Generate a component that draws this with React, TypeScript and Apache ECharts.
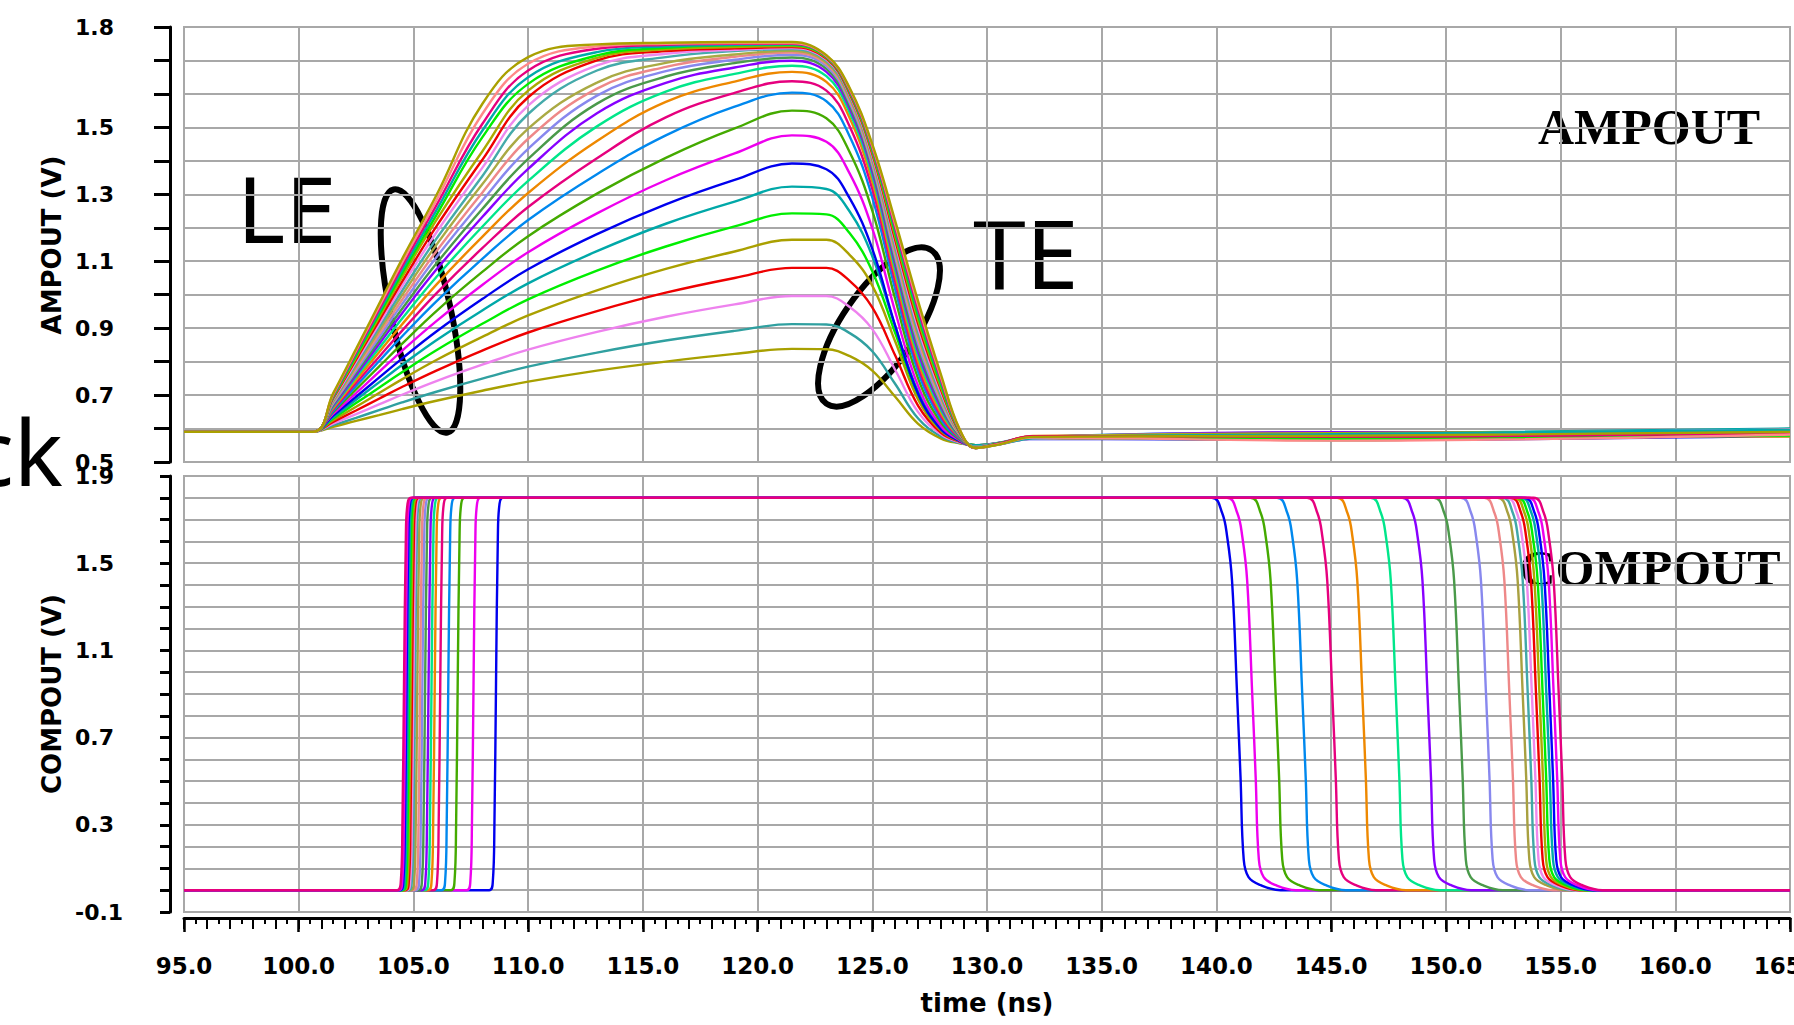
import React, { useEffect, useRef } from 'react';
import * as echarts from 'echarts';

// ---------- AMPOUT (top plot) ----------
const AMP_TIMES = [95, 100.6, 101.5, 102.5, 103.5, 104.5, 106, 108, 110, 113, 116, 119, 121.5, 123, 124, 125, 126, 127, 128, 128.8, 129.5, 130.5, 132, 145, 165];

const AMPOUT_CURVES: number[][] = [
  [0.59, 0.59, 0.605, 0.623, 0.64, 0.658, 0.683, 0.713, 0.74, 0.773, 0.8, 0.823, 0.838, 0.837, 0.817, 0.773, 0.695, 0.614, 0.57, 0.556, 0.55, 0.556, 0.572, 0.583, 0.59],
  [0.59, 0.59, 0.61, 0.632, 0.655, 0.678, 0.71, 0.749, 0.785, 0.827, 0.863, 0.892, 0.912, 0.911, 0.886, 0.831, 0.733, 0.63, 0.576, 0.557, 0.55, 0.555, 0.574, 0.578, 0.596],
  [0.59, 0.59, 0.615, 0.643, 0.672, 0.701, 0.742, 0.791, 0.836, 0.889, 0.934, 0.971, 0.996, 0.996, 0.964, 0.897, 0.775, 0.649, 0.582, 0.559, 0.55, 0.557, 0.571, 0.586, 0.585],
  [0.59, 0.59, 0.62, 0.654, 0.689, 0.724, 0.773, 0.833, 0.887, 0.951, 1.006, 1.05, 1.08, 1.08, 1.042, 0.962, 0.818, 0.668, 0.587, 0.561, 0.55, 0.554, 0.576, 0.575, 0.598],
  [0.59, 0.59, 0.625, 0.665, 0.706, 0.747, 0.805, 0.874, 0.938, 1.013, 1.077, 1.129, 1.164, 1.164, 1.12, 1.027, 0.86, 0.686, 0.593, 0.562, 0.55, 0.556, 0.57, 0.588, 0.58],
  [0.59, 0.59, 0.63, 0.676, 0.722, 0.768, 0.834, 0.913, 0.986, 1.072, 1.144, 1.204, 1.243, 1.24, 1.185, 1.07, 0.885, 0.7, 0.597, 0.564, 0.55, 0.553, 0.575, 0.572, 0.593],
  [0.59, 0.59, 0.634, 0.686, 0.738, 0.79, 0.864, 0.953, 1.034, 1.13, 1.212, 1.278, 1.323, 1.316, 1.25, 1.115, 0.905, 0.71, 0.6, 0.565, 0.55, 0.557, 0.573, 0.584, 0.6],
  [0.59, 0.59, 0.639, 0.695, 0.752, 0.809, 0.89, 0.987, 1.076, 1.181, 1.27, 1.343, 1.392, 1.375, 1.29, 1.137, 0.907, 0.703, 0.597, 0.563, 0.546, 0.555, 0.569, 0.566, 0.578],
  [0.59, 0.59, 0.644, 0.706, 0.769, 0.832, 0.921, 1.029, 1.127, 1.243, 1.342, 1.422, 1.476, 1.457, 1.364, 1.198, 0.949, 0.727, 0.607, 0.565, 0.546, 0.554, 0.577, 0.58, 0.588],
  [0.59, 0.59, 0.649, 0.717, 0.785, 0.853, 0.951, 1.068, 1.175, 1.302, 1.409, 1.497, 1.55, 1.527, 1.428, 1.251, 0.987, 0.749, 0.617, 0.568, 0.546, 0.556, 0.572, 0.57, 0.595],
  [0.59, 0.59, 0.653, 0.727, 0.801, 0.875, 0.98, 1.107, 1.223, 1.36, 1.476, 1.562, 1.604, 1.578, 1.475, 1.291, 1.016, 0.769, 0.627, 0.57, 0.546, 0.553, 0.575, 0.587, 0.583],
  [0.59, 0.59, 0.657, 0.736, 0.814, 0.892, 1.004, 1.139, 1.262, 1.408, 1.53, 1.603, 1.638, 1.61, 1.505, 1.316, 1.039, 0.785, 0.636, 0.572, 0.546, 0.557, 0.571, 0.568, 0.597],
  [0.59, 0.59, 0.661, 0.745, 0.828, 0.911, 1.03, 1.173, 1.304, 1.459, 1.576, 1.637, 1.666, 1.636, 1.53, 1.338, 1.058, 0.801, 0.645, 0.575, 0.546, 0.555, 0.578, 0.582, 0.576],
  [0.59, 0.59, 0.665, 0.753, 0.84, 0.928, 1.053, 1.203, 1.34, 1.503, 1.607, 1.66, 1.684, 1.653, 1.546, 1.355, 1.075, 0.815, 0.654, 0.576, 0.546, 0.554, 0.57, 0.574, 0.591],
  [0.59, 0.59, 0.669, 0.76, 0.852, 0.944, 1.075, 1.232, 1.376, 1.542, 1.633, 1.679, 1.699, 1.666, 1.559, 1.368, 1.089, 0.829, 0.662, 0.578, 0.546, 0.556, 0.574, 0.589, 0.586],
  [0.59, 0.59, 0.672, 0.767, 0.862, 0.957, 1.093, 1.256, 1.406, 1.571, 1.652, 1.692, 1.709, 1.675, 1.568, 1.378, 1.1, 0.841, 0.67, 0.579, 0.546, 0.553, 0.572, 0.565, 0.599],
  [0.59, 0.59, 0.675, 0.773, 0.872, 0.971, 1.112, 1.281, 1.436, 1.595, 1.668, 1.702, 1.717, 1.683, 1.576, 1.387, 1.112, 0.854, 0.677, 0.582, 0.546, 0.557, 0.576, 0.579, 0.581],
  [0.59, 0.59, 0.678, 0.78, 0.882, 0.984, 1.13, 1.305, 1.466, 1.616, 1.681, 1.711, 1.724, 1.689, 1.583, 1.395, 1.123, 0.866, 0.685, 0.583, 0.546, 0.555, 0.571, 0.571, 0.594],
  [0.59, 0.59, 0.681, 0.786, 0.892, 0.998, 1.149, 1.33, 1.496, 1.634, 1.693, 1.718, 1.729, 1.694, 1.589, 1.402, 1.135, 0.877, 0.692, 0.584, 0.546, 0.554, 0.575, 0.585, 0.577],
  [0.59, 0.59, 0.684, 0.793, 0.902, 1.011, 1.167, 1.354, 1.54, 1.67, 1.71, 1.728, 1.734, 1.699, 1.595, 1.409, 1.145, 0.889, 0.699, 0.587, 0.546, 0.556, 0.573, 0.567, 0.589],
  [0.59, 0.59, 0.687, 0.799, 0.912, 1.025, 1.186, 1.379, 1.565, 1.685, 1.72, 1.732, 1.737, 1.703, 1.6, 1.415, 1.155, 0.901, 0.707, 0.588, 0.542, 0.552, 0.57, 0.581, 0.597],
  [0.59, 0.59, 0.69, 0.806, 0.922, 1.038, 1.204, 1.403, 1.59, 1.7, 1.728, 1.736, 1.74, 1.706, 1.603, 1.421, 1.164, 0.913, 0.715, 0.589, 0.542, 0.555, 0.577, 0.573, 0.584],
  [0.59, 0.59, 0.693, 0.812, 0.932, 1.052, 1.223, 1.428, 1.61, 1.708, 1.733, 1.74, 1.743, 1.709, 1.607, 1.427, 1.174, 0.924, 0.722, 0.592, 0.542, 0.553, 0.572, 0.586, 0.592],
  [0.59, 0.59, 0.695, 0.818, 0.94, 1.063, 1.238, 1.47, 1.63, 1.715, 1.738, 1.745, 1.746, 1.71, 1.609, 1.432, 1.184, 0.936, 0.73, 0.593, 0.542, 0.556, 0.574, 0.569, 0.579],
  [0.59, 0.59, 0.697, 0.823, 0.948, 1.073, 1.252, 1.49, 1.65, 1.725, 1.742, 1.747, 1.748, 1.712, 1.612, 1.436, 1.193, 0.946, 0.737, 0.594, 0.542, 0.552, 0.571, 0.583, 0.596],
  [0.59, 0.59, 0.7, 0.828, 0.956, 1.084, 1.267, 1.51, 1.67, 1.735, 1.747, 1.75, 1.75, 1.713, 1.614, 1.44, 1.201, 0.957, 0.745, 0.596, 0.542, 0.555, 0.576, 0.576, 0.587],
  [0.59, 0.59, 0.702, 0.833, 0.964, 1.095, 1.282, 1.54, 1.69, 1.742, 1.75, 1.752, 1.752, 1.714, 1.617, 1.445, 1.21, 0.969, 0.752, 0.598, 0.542, 0.553, 0.573, 0.564, 0.582],
  [0.59, 0.59, 0.705, 0.838, 0.972, 1.106, 1.297, 1.57, 1.71, 1.748, 1.753, 1.755, 1.755, 1.716, 1.62, 1.45, 1.22, 0.98, 0.76, 0.599, 0.542, 0.552, 0.575, 0.578, 0.59],
];

const AMP_COLORS = [
  '#a8a000', '#30a0a0', '#ee82ee', '#ee0000', '#aaa000', '#00ee00', '#00a8a8', '#0000ee',
  '#ee00ee', '#44aa00', '#0088ee', '#e6007e', '#ee8800', '#00e68a', '#8800ff', '#4a9a4a',
  '#8888ee', '#ee8888', '#aaaa44', '#44aaaa', '#ee88ee', '#ee0000', '#aaaa00', '#00ee00',
  '#00aaaa', '#e6007e', '#ff8888', '#aaa000',
];

// ---------- COMPOUT (bottom plot) ----------
const COMP_RISE = [108.6, 107.62, 106.93, 106.52, 106.17, 105.93, 105.79, 105.66, 105.51, 105.39, 105.29, 105.17, 105.07, 105.0, 104.94, 104.88, 104.82, 104.76, 104.7, 104.65, 104.59];
const COMP_FALL = [140.9, 141.56, 142.58, 143.74, 145.05, 146.36, 147.82, 149.2, 150.58, 151.75, 152.77, 153.35, 153.57, 153.75, 153.93, 154.08, 154.22, 154.38, 154.52, 154.7, 154.92];
const RISE_DT = [-0.3, -0.14, -0.07, 0, 0.08, 0.15, 0.3];
const RISE_V = [0, 0.04, 0.3, 0.95, 1.62, 1.77, 1.8];
const FALL_DT = [-1.1, -0.65, -0.43, -0.22, 0, 0.15, 0.29, 0.5, 1.0, 1.9];
const FALL_V = [1.8, 1.73, 1.62, 1.42, 0.9, 0.52, 0.14, 0.06, 0.024, 0];
const COMP_COLORS = [
  '#0000ee', '#ee00ee', '#44aa00', '#0088ee', '#e6007e', '#ee8800', '#00e68a', '#8800ff',
  '#4a9a4a', '#8888ee', '#ee8888', '#a8a040', '#40a8a8', '#ee88ee', '#ee0000', '#aaaa00',
  '#00ee00', '#00aaaa', '#0000ff', '#ee00ee', '#e6007e',
];

const X_MIN = 95;
const X_MAX = 165;
const AMP_Y_LABELS = ['0.5', '0.7', '0.9', '1.1', '1.3', '1.5', '1.8'];

const GRID_COLOR = '#a8a8a8';
const TICK_FONT = 'DejaVu Sans';
const LINE_W = 2.4;

export default function App() {
  const ref = useRef<HTMLDivElement>(null);

  useEffect(() => {
    document.body.style.margin = '0';
    const chart = echarts.init(ref.current!, null, { renderer: 'svg' });

    const ampSeries = AMPOUT_CURVES.map((vals, i) => ({
      type: 'line',
      xAxisIndex: 0,
      yAxisIndex: 0,
      data: AMP_TIMES.map((t, j) => [t, vals[j]]),
      showSymbol: false,
      symbol: 'none',
      smooth: 0.4,
      silent: true,
      lineStyle: { width: LINE_W, color: AMP_COLORS[i % AMP_COLORS.length] },
      emphasis: { disabled: true },
    }));

    const compSeries = COMP_RISE.map((tr, i) => {
      const tf = COMP_FALL[i];
      const pts: number[][] = [[X_MIN, 0]];
      RISE_DT.forEach((d, j) => pts.push([tr + d, RISE_V[j]]));
      FALL_DT.forEach((d, j) => pts.push([tf + d, FALL_V[j]]));
      pts.push([X_MAX, 0]);
      return {
        type: 'line',
        xAxisIndex: 1,
        yAxisIndex: 1,
        data: pts,
        showSymbol: false,
        symbol: 'none',
        smooth: 0.4,
        silent: true,
        lineStyle: { width: LINE_W, color: COMP_COLORS[i % COMP_COLORS.length] },
        emphasis: { disabled: true },
      };
    });

    const splitLine = { show: true, lineStyle: { color: GRID_COLOR, width: 2 } };

    const option: any = {
      animation: false,
      backgroundColor: '#ffffff',
      grid: [
        { left: 184, top: 27, width: 1606, height: 435, show: true, borderColor: GRID_COLOR, borderWidth: 2, containLabel: false, outerBoundsMode: 'none' },
        { left: 184, top: 476, width: 1606, height: 436, show: true, borderColor: GRID_COLOR, borderWidth: 2, containLabel: false, outerBoundsMode: 'none' },
      ],
      xAxis: [
        {
          gridIndex: 0, type: 'value', min: X_MIN, max: X_MAX, interval: 5,
          axisLine: { show: false, onZero: false }, axisTick: { show: false }, axisLabel: { show: false },
          splitLine,
        },
        {
          gridIndex: 1, type: 'value', min: X_MIN, max: X_MAX, interval: 5, position: 'bottom', offset: 6,
          axisLine: { show: true, onZero: false, lineStyle: { color: '#000', width: 3 } },
          axisTick: { show: true, length: 14, lineStyle: { color: '#000', width: 2.5 } },
          minorTick: { show: true, splitNumber: 10, length: 6, lineStyle: { color: '#000', width: 2 } },
          axisLabel: {
            formatter: (v: number) => v.toFixed(1), color: '#000', fontSize: 23, fontWeight: 'bold',
            fontFamily: TICK_FONT, margin: 36,
          },
          splitLine,
          name: 'time (ns)', nameLocation: 'middle', nameGap: 72,
          nameTextStyle: { color: '#000', fontSize: 26, fontWeight: 'bold', fontFamily: TICK_FONT },
        },
        {
          gridIndex: 1, type: 'value', min: X_MIN, max: X_MAX, interval: 1, position: 'bottom', offset: 6,
          axisLine: { show: false, onZero: false },
          axisTick: { show: true, length: 11, lineStyle: { color: '#000', width: 2 } },
          axisLabel: { show: false }, splitLine: { show: false },
        },
      ],
      yAxis: [
        {
          gridIndex: 0, type: 'value', min: 0.5, max: 1.8, interval: 0.1, offset: 14,
          axisLine: { show: true, onZero: false, lineStyle: { color: '#000', width: 3 } },
          axisTick: { show: true, length: 16, lineStyle: { color: '#000', width: 3 } },
          axisLabel: {
            formatter: (v: number) => { const s = v.toFixed(1); return AMP_Y_LABELS.includes(s) ? s : ''; },
            align: 'left', margin: 95, color: '#000', fontSize: 22, fontWeight: 'bold', fontFamily: TICK_FONT,
          },
          splitLine,
        },
        {
          gridIndex: 1, type: 'value', min: -0.1, max: 1.9, interval: 0.1, offset: 14,
          axisLine: { show: true, onZero: false, lineStyle: { color: '#000', width: 3 } },
          axisTick: { show: true, length: 10, lineStyle: { color: '#000', width: 3 } },
          axisLabel: {
            formatter: (v: number) => { const n = Math.round((v + 0.1) * 10); return n % 4 === 0 ? v.toFixed(1) : ''; },
            align: 'left', margin: 95, color: '#000', fontSize: 22, fontWeight: 'bold', fontFamily: TICK_FONT,
          },
          splitLine,
        },
      ],
      graphic: [
        { type: 'text', x: 52, y: 245, rotation: Math.PI / 2, style: { text: 'AMPOUT (V)', fontSize: 26, fontWeight: 'bold', fontFamily: TICK_FONT, fill: '#000', align: 'center', verticalAlign: 'middle' } },
        { type: 'text', x: 52, y: 694, rotation: Math.PI / 2, style: { text: 'COMPOUT (V)', fontSize: 26, fontWeight: 'bold', fontFamily: TICK_FONT, fill: '#000', align: 'center', verticalAlign: 'middle' } },
        { type: 'text', x: 1649, y: 127, style: { text: 'AMPOUT', fontSize: 50, fontWeight: 'bold', fontFamily: 'Liberation Serif', fill: '#000', align: 'center', verticalAlign: 'middle' } },
        { type: 'text', x: 1650, y: 568, style: { text: 'COMPOUT', fontSize: 50, fontWeight: 'bold', fontFamily: 'Liberation Serif', fill: '#000', align: 'center', verticalAlign: 'middle' } },
        { type: 'text', x: 237, y: 207, style: { text: 'LE', fontSize: 92, fontFamily: 'Noto Sans', fill: '#000', align: 'left', verticalAlign: 'middle' } },
        { type: 'text', x: 973, y: 252, style: { text: 'TE', fontSize: 95, fontFamily: 'Noto Sans', fill: '#000', align: 'left', verticalAlign: 'middle' } },
        { type: 'text', x: 63, y: 450, style: { text: 'ck', fontSize: 92, fontFamily: 'Noto Sans', fill: '#000', align: 'right', verticalAlign: 'middle' } },
        { type: 'ellipse', x: 420.5, y: 311, rotation: 0.218, shape: { cx: 0, cy: 0, rx: 30, ry: 124.5 }, style: { fill: 'transparent', stroke: '#000', lineWidth: 6 } },
        { type: 'ellipse', x: 879, y: 327, rotation: 0.969, shape: { cx: 0, cy: 0, rx: 93, ry: 37 }, style: { fill: 'transparent', stroke: '#000', lineWidth: 6 } },
      ],
      series: [...ampSeries, ...compSeries],
    };

    chart.setOption(option);
    return () => chart.dispose();
  }, []);

  return <div ref={ref} style={{ width: 1794, height: 1025 }} />;
}
